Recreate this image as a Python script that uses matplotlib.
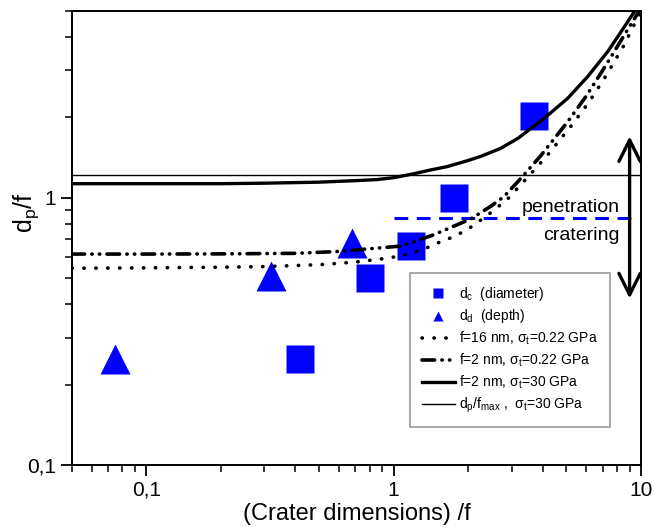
import numpy as np
import matplotlib
matplotlib.use('Agg')
import matplotlib.pyplot as plt
from matplotlib.ticker import NullFormatter, LogLocator

plt.rcParams['font.family'] = ['Liberation Sans', 'DejaVu Sans']
plt.rcParams['mathtext.fontset'] = 'custom'
plt.rcParams['mathtext.rm'] = 'Liberation Sans'
plt.rcParams['mathtext.it'] = 'Liberation Sans:italic'
plt.rcParams['mathtext.default'] = 'regular'

# measured crater data
x_dc = [0.42, 0.80, 1.18, 1.75, 3.7]
y_dc = [0.25, 0.50, 0.66, 1.0, 2.03]
x_dd = [0.075, 0.32, 0.68]
y_dd = [0.25, 0.51, 0.68]

# model curves
x_f16 = [0.05, 0.1, 0.2, 0.3, 0.5, 0.7, 0.95, 1.1, 1.31, 1.52, 1.78, 2.09, 2.47, 2.89, 3.5, 4.2, 5.2, 6.2, 7.2, 8.5, 10]
y_f16 = [0.545, 0.547, 0.55, 0.553, 0.562, 0.575, 0.595, 0.61, 0.64, 0.68, 0.72, 0.785, 0.88, 0.99, 1.2, 1.45, 1.85, 2.3, 2.85, 3.7, 5.0]

x_f2 = [0.05, 0.1, 0.2, 0.4, 0.6, 0.8, 1.07, 1.41, 1.65, 2.05, 2.47, 2.79, 3.18, 3.94, 5.06, 6.0, 7.08, 8.4, 9.83]
y_f2 = [0.616, 0.616, 0.617, 0.62, 0.63, 0.645, 0.66, 0.72, 0.765, 0.834, 0.93, 1.01, 1.15, 1.44, 1.93, 2.4, 3.05, 3.95, 5.0]

x_f2_30 = [0.05, 0.1, 0.2, 0.3, 0.5, 0.7, 0.85, 1.0, 1.2, 1.4, 1.65, 2.0, 2.25, 2.7, 3.18, 4.05, 5.06, 6.1, 7.36, 8.5, 9.5]
y_f2_30 = [1.13, 1.13, 1.13, 1.135, 1.145, 1.16, 1.17, 1.19, 1.23, 1.27, 1.31, 1.38, 1.43, 1.53, 1.67, 1.98, 2.36, 2.85, 3.54, 4.32, 5.05]

dpf_max = 1.22
threshold = 0.84
xlim = (0.05, 10)
ylim = (0.1, 5)

fig = plt.figure(figsize=(6.54, 5.32), dpi=100)
ax = fig.add_axes([0.110, 0.126, 0.870, 0.853])

ax.set_xscale('log')
ax.set_yscale('log')

ax.plot(x_dc, y_dc, 's', color='blue', ms=19.5, mec='none', label=r'd$_c$  (diameter)', zorder=3)
ax.plot(x_dd, y_dd, '^', color='blue', ms=21, mec='none', label=r'd$_d$  (depth)', zorder=3)

ax.plot(x_f16, y_f16, color='black', lw=2.6, linestyle=(0, (0.1, 3.2)), dash_capstyle='round',
        label=r'f=16 nm, $\sigma_t$=0.22 GPa', zorder=4)
ax.plot(x_f2, y_f2, color='black', lw=2.6, linestyle=(0, (3.5, 2.0, 0.1, 2.0, 0.1, 2.0)), dash_capstyle='round',
        label=r'f=2 nm, $\sigma_t$=0.22 GPa', zorder=4)
ax.plot(x_f2_30, y_f2_30, color='black', lw=2.4, label=r'f=2 nm, $\sigma_t$=30 GPa', zorder=4)
ax.plot(xlim, [dpf_max, dpf_max], color='black', lw=1.0, label=r'd$_p$/f$_{max}$ ,  $\sigma_t$=30 GPa', zorder=4)

ax.plot([1.0, 9.6], [threshold, threshold], color='blue', lw=2.2, linestyle=(0, (4.5, 2.8)), zorder=2)

ax.text(8.2, 0.92, 'penetration', fontsize=14, ha='right', va='center')
ax.text(8.2, 0.72, 'cratering', fontsize=14, ha='right', va='center')
ax.annotate('', xy=(9.0, 1.70), xytext=(9.0, 0.42),
            arrowprops=dict(arrowstyle='<->, head_length=0.7, head_width=0.35', lw=2.4,
                            color='black', mutation_scale=22, shrinkA=0, shrinkB=0))

ax.set_xlim(*xlim)
ax.set_ylim(*ylim)
ax.set_xticks([0.1, 1, 10], ['0,1', '1', '10'])
ax.set_yticks([0.1, 1], ['0,1', '1'])
ax.xaxis.set_minor_locator(LogLocator(base=10, subs=np.arange(2, 10)))
ax.yaxis.set_minor_locator(LogLocator(base=10, subs=np.arange(2, 10)))
ax.xaxis.set_minor_formatter(NullFormatter())
ax.yaxis.set_minor_formatter(NullFormatter())
ax.tick_params(which='major', length=8, width=1.3, labelsize=15, direction='out')
ax.tick_params(which='minor', length=5, width=1.1, direction='out')
for sp in ax.spines.values():
    sp.set_linewidth(1.4)

ax.set_xlabel('(Crater dimensions) /f', fontsize=17, labelpad=2)
ax.set_ylabel(r'd$_p$/f', fontsize=18, va='center')
ax.yaxis.set_label_coords(-0.080, 0.555)

leg = ax.legend(loc='upper left', bbox_to_anchor=(0.594, 0.423), borderaxespad=0, fontsize=10,
                markerscale=0.36, handlelength=2.4, handletextpad=0.3, labelspacing=0.33,
                fancybox=False, edgecolor='#808080', borderpad=0.85)
leg.get_frame().set_linewidth(1.2)

fig.savefig('out.png', dpi=100)
